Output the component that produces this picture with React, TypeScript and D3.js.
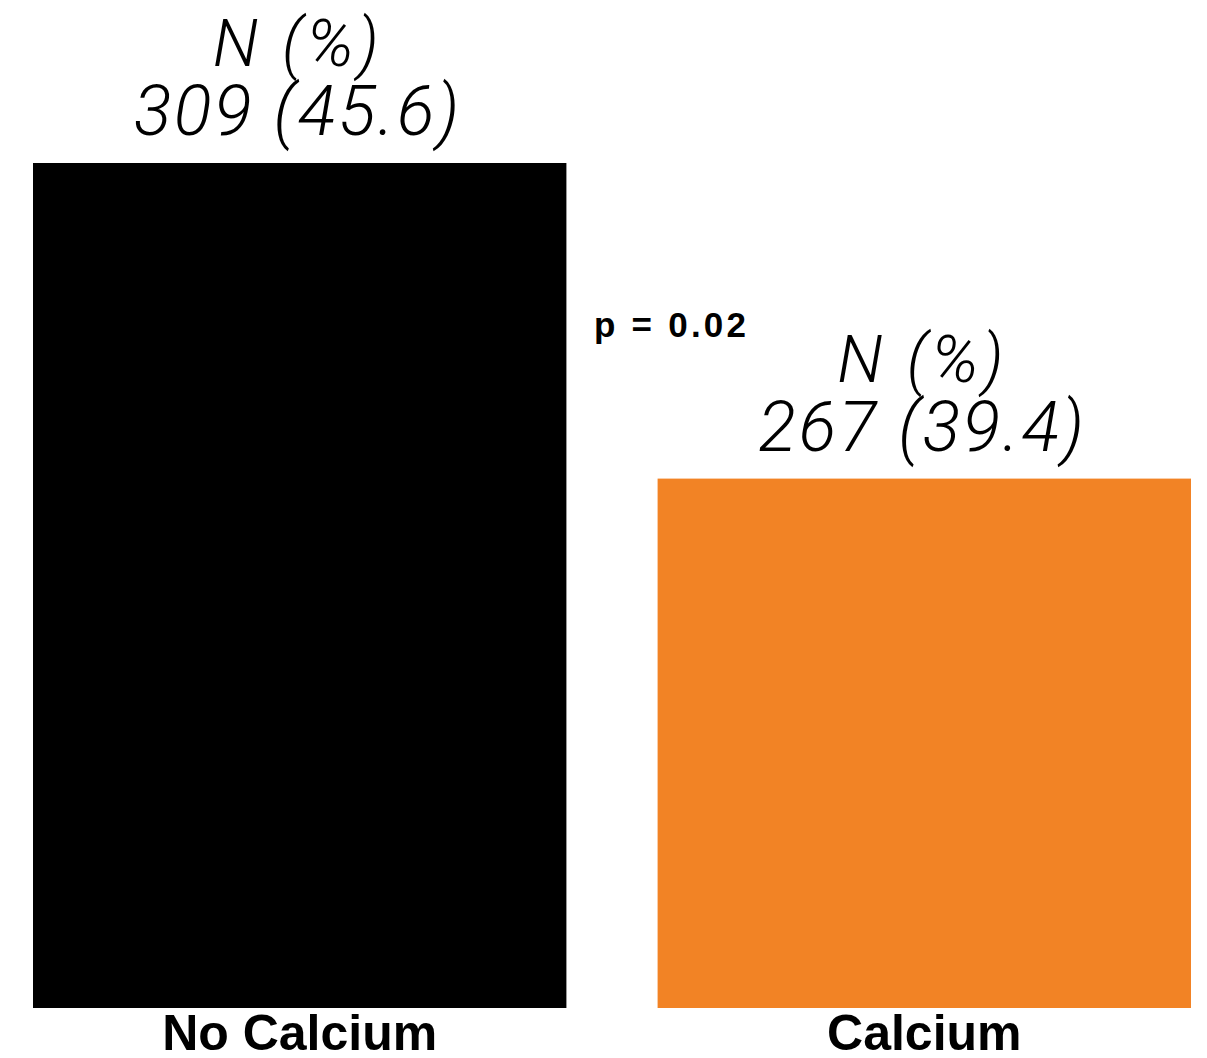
import React from "react";
import * as d3 from "d3";

const categories = ["No Calcium", "Calcium"];
const counts = [309, 267];
const percents = [45.6, 39.4];
const colors = ["#000000", "#F28325"];
const pLabel = "p = 0.02";

const W = 1207;
const H = 1058;

export default function App() {
  const x = d3
    .scaleBand<string>()
    .domain(categories)
    .range([33, 1191])
    .paddingInner(0.146)
    .paddingOuter(0);
  const y = d3.scaleLinear().domain([29, 45.6]).range([1008, 163]);
  const font = "'Liberation Sans', Arial, Helvetica, sans-serif";
  const lightFont = "Roboto, 'Liberation Sans', Arial, sans-serif";

  return (
    <svg
      width={W}
      height={H}
      viewBox={`0 0 ${W} ${H}`}
      style={{ position: "absolute", left: 0, top: 0, background: "#fff" }}
    >
      <rect x={0} y={0} width={W} height={H} fill="#fff" />
      {categories.map((c, i) => {
        const bx = x(c)!;
        const bw = x.bandwidth();
        const top = y(percents[i]);
        const cx = bx + bw / 2 - 2;
        return (
          <g key={c}>
            <rect x={bx} y={top} width={bw} height={y(29) - top} fill={colors[i]} />
            <text
              x={cx}
              y={top - 97}
              textAnchor="middle"
              fontFamily={lightFont}
              fontStyle="italic"
              fontWeight={300}
              fontSize={66}
              letterSpacing={4}
              fill="#000"
            >
              N (%)
            </text>
            <text
              x={cx}
              y={top - 28}
              textAnchor="middle"
              fontFamily={lightFont}
              fontStyle="italic"
              fontWeight={300}
              fontSize={70}
              letterSpacing={2.5}
              fill="#000"
            >
              {`${counts[i]} (${percents[i].toFixed(1)})`}
            </text>
            <text
              x={bx + bw / 2}
              y={1050}
              textAnchor="middle"
              fontFamily={font}
              fontWeight="bold"
              fontSize={50}
              fill="#000"
            >
              {c}
            </text>
          </g>
        );
      })}
      <text
        x={594}
        y={337}
        fontFamily={font}
        fontWeight="bold"
        fontSize={35}
        textLength={152}
        lengthAdjust="spacing"
        fill="#000"
      >
        {pLabel}
      </text>
    </svg>
  );
}
